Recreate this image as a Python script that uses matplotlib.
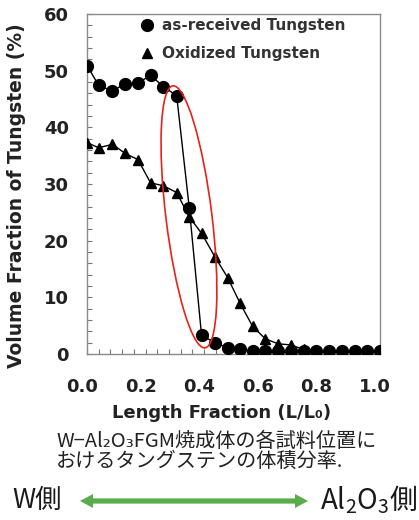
import matplotlib
matplotlib.use('Agg')
import matplotlib.pyplot as plt
import matplotlib.transforms as mtransforms
from matplotlib.patches import Ellipse, Polygon
from matplotlib.lines import Line2D
from matplotlib.ticker import MultipleLocator

plt.rcParams['mathtext.fontset'] = 'custom'
plt.rcParams['mathtext.rm'] = 'Noto Sans CJK JP'
plt.rcParams['mathtext.it'] = 'Noto Sans CJK JP'

# ---- data ----
x_asrec = [0.0, 0.04, 0.087, 0.13, 0.174, 0.217, 0.26, 0.306, 0.349, 0.391, 0.437, 0.48,
           0.522, 0.565, 0.608, 0.652, 0.696, 0.739, 0.783, 0.826, 0.87, 0.913, 0.957, 1.0]
y_asrec = [50.9, 47.4, 46.4, 47.7, 47.8, 49.2, 47.2, 45.6, 25.8, 3.3, 2.0, 1.1,
           0.8, 0.5, 0.5, 0.5, 0.5, 0.5, 0.5, 0.5, 0.5, 0.5, 0.5, 0.5]
x_oxid = [0.0, 0.04, 0.087, 0.13, 0.174, 0.217, 0.26, 0.306, 0.349, 0.391, 0.437, 0.48,
          0.522, 0.565, 0.608, 0.652, 0.696, 0.739, 0.783, 0.826, 0.87, 0.913, 0.957, 1.0]
y_oxid = [37.3, 36.4, 37.0, 35.4, 34.3, 30.2, 29.7, 28.5, 24.2, 21.3, 17.1, 13.5,
          9.0, 4.9, 2.7, 1.8, 1.6, 0.8, 0.6, 0.5, 0.5, 0.5, 0.5, 0.5]
series_labels = ['as-received Tungsten', 'Oxidized Tungsten']
xticks = [0.0, 0.2, 0.4, 0.6, 0.8, 1.0]
xticklabels = ['0.0', '0.2', '0.4', '0.6', '0.8', '1.0']
yticks = [0, 10, 20, 30, 40, 50, 60]
ylabel = 'Volume Fraction of Tungsten (%)'
xlabel = 'Length Fraction (L/L\u2080)'
caption1 = 'W\u2212Al\u2082O\u2083FGM焼成体の各試料位置に'
caption2 = 'おけるタングステンの体積分率.'
left_label = 'W側'
right_label = 'Al$_2$O$_3$側'
# ellipse highlight (center in data units)
ell_center = (0.348, 24.2)

W, H = 419, 520
fig = plt.figure(figsize=(W / 100, H / 100), dpi=100)
ax = fig.add_axes([87 / W, 1 - 354 / H, 293 / W, 340 / H])

lab_font = ['DejaVu Sans']
txtcol = '#222222'

ax.plot(x_oxid, y_oxid, '-^', color='black', lw=1.0, ms=7.5, zorder=3)
ax.plot(x_asrec, y_asrec, '-o', color='black', lw=1.0, ms=8.5, zorder=4)

ax.set_xlim(0, 1)
ax.set_ylim(0, 60)
ax.set_xticks(xticks)
ax.set_xticklabels(xticklabels)
ax.set_yticks(yticks)
ax.xaxis.set_minor_locator(MultipleLocator(0.04))
ax.yaxis.set_minor_locator(MultipleLocator(2))
ax.tick_params(axis='both', which='both', direction='in', length=3.5, width=0.8,
               color='#777777', top=False, right=False)
ax.tick_params(axis='x', which='major', pad=17)
ax.tick_params(axis='y', which='major', pad=13)
for s in ax.spines.values():
    s.set_color('#8a8a8a')
    s.set_linewidth(1.0)

for lab in ax.get_xticklabels() + ax.get_yticklabels():
    lab.set_fontfamily(lab_font)
    lab.set_fontweight('bold')
    lab.set_fontsize(13)
    lab.set_color(txtcol)
for lab in ax.get_xticklabels():
    lab.set_transform(lab.get_transform() +
                      mtransforms.ScaledTranslation(-5 / 100, 0, fig.dpi_scale_trans))

# legend
handles = [Line2D([], [], ls='none', marker='o', color='black', ms=8.5),
           Line2D([], [], ls='none', marker='^', color='black', ms=7.5)]
leg = ax.legend(handles, series_labels, loc='upper left',
                bbox_to_anchor=(139 / W, 1 - 18 / H), bbox_transform=fig.transFigure,
                frameon=False, handlelength=1.0, handletextpad=0.5, borderpad=0,
                borderaxespad=0, labelspacing=0.85,
                prop={'family': lab_font, 'weight': 'bold', 'size': 11})
for t in leg.get_texts():
    t.set_color('#333333')

# red ellipse
tr = fig.dpi_scale_trans + mtransforms.ScaledTranslation(ell_center[0], ell_center[1], ax.transData)
ell = Ellipse((0, 0), 0.46, 2.64, angle=7, transform=tr, fill=False,
              edgecolor='#e8221a', lw=1.2, clip_on=False, zorder=5)
ax.add_patch(ell)

# axis labels
fig.text(17 / W, 1 - 196 / H, ylabel, rotation=90, ha='center', va='center',
         family=lab_font, fontweight='bold', fontsize=13.5, color=txtcol)
fig.text(222 / W, 1 - 413 / H, xlabel, ha='center', va='center',
         family=lab_font, fontweight='bold', fontsize=13, color=txtcol)

# caption
cj_font = ['Noto Sans CJK JP', 'DejaVu Sans']
fig.text(56 / W, 1 - 441 / H, caption1, ha='left', va='center', family=cj_font,
         fontsize=14.5, color=txtcol)
fig.text(56 / W, 1 - 461 / H, caption2, ha='left', va='center', family=cj_font,
         fontsize=14.5, color=txtcol)

# bottom labels
fig.text(12 / W, 1 - 500 / H, left_label, ha='left', va='center', family=cj_font,
         fontsize=19, color='#1a1a1a')
fig.text(417 / W, 1 - 500 / H, right_label, ha='right', va='center',
         family='Noto Sans CJK JP', fontsize=20, color='#1a1a1a')

# green double arrow (in pixel coords -> figure coords)
x0, x1, yc = 80, 308, 501
hl, hw, sw = 13, 7, 2.6
pts = [(x0, yc), (x0 + hl, yc + hw), (x0 + hl, yc + sw), (x1 - hl, yc + sw),
       (x1 - hl, yc + hw), (x1, yc), (x1 - hl, yc - hw), (x1 - hl, yc - sw),
       (x0 + hl, yc - sw), (x0 + hl, yc - hw)]
pts = [(px / W, 1 - py / H) for px, py in pts]
fig.patches.append(Polygon(pts, closed=True, transform=fig.transFigure,
                           facecolor='#5aab4b', edgecolor='none'))

fig.savefig('out.png', dpi=100)
